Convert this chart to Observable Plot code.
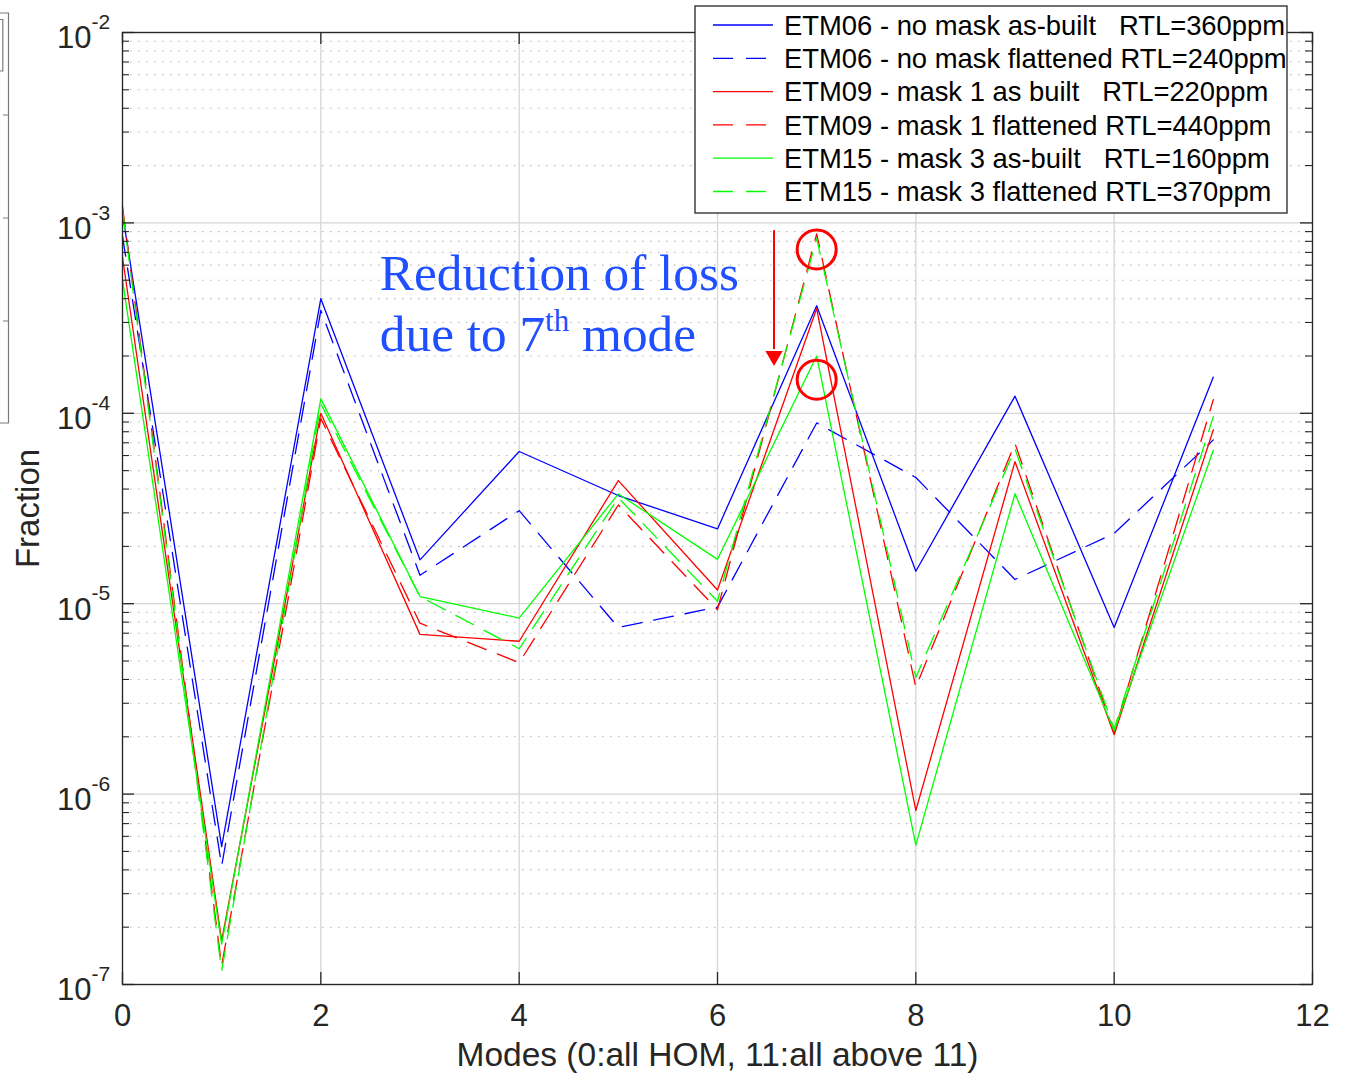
<!DOCTYPE html>
<html><head><meta charset="utf-8">
<script src="https://cdn.jsdelivr.net/npm/d3@7"></script>
<script src="https://cdn.jsdelivr.net/npm/@observablehq/plot@0.6"></script>
<style>
body{margin:0;background:#fff;font-family:"Liberation Sans",Arial,Helvetica,sans-serif;}
#wrap{position:relative;width:1347px;height:1073px;overflow:hidden;}
#wrap svg{position:absolute;}
</style></head><body><div id="wrap"></div>
<script>
// ---- data ----
const modes = [0,1,2,3,4,5,6,7,8,9,10,11];
const etm06AsBuilt   = [1.12e-3,5.3e-7,4.0e-4,1.70e-5,6.3e-5,3.7e-5,2.47e-5,3.67e-4,1.48e-5,1.23e-4,7.5e-6,1.55e-4];
const etm06Flattened = [8.5e-4,4.2e-7,3.47e-4,1.41e-5,3.08e-5,7.5e-6,9.6e-6,8.9e-5,4.6e-5,1.34e-5,2.34e-5,7.25e-5];
const etm09AsBuilt   = [6.6e-4,1.7e-7,1.0e-4,6.9e-6,6.35e-6,4.43e-5,1.18e-5,3.55e-4,8.2e-7,5.57e-5,2.05e-6,8.2e-5];
const etm09Flattened = [1.22e-3,1.26e-7,9.4e-5,7.9e-6,4.9e-6,3.3e-5,9.3e-6,8.76e-4,3.64e-6,6.95e-5,2.1e-6,1.18e-4];
const etm15AsBuilt   = [5.0e-4,1.63e-7,1.19e-4,1.09e-5,8.4e-6,3.77e-5,1.71e-5,2.0e-4,5.4e-7,3.78e-5,2.15e-6,6.4e-5];
const etm15Flattened = [1.17e-3,1.18e-7,1.12e-4,1.09e-5,5.8e-6,3.6e-5,1.03e-5,8.3e-4,4.1e-6,6.5e-5,2.2e-6,9.6e-5];

const seriesValues = [etm06AsBuilt, etm06Flattened, etm09AsBuilt, etm09Flattened, etm15AsBuilt, etm15Flattened];
const seriesNames = [
  "ETM06 - no mask as-built   RTL=360ppm",
  "ETM06 - no mask flattened RTL=240ppm",
  "ETM09 - mask 1 as built   RTL=220ppm",
  "ETM09 - mask 1 flattened RTL=440ppm",
  "ETM15 - mask 3 as-built   RTL=160ppm",
  "ETM15 - mask 3 flattened RTL=370ppm"
];
const seriesColors = ["#0000ff","#0000ff","#ff0000","#ff0000","#00ff00","#00ff00"];
const seriesDashed = [false,true,false,true,false,true];

const xTicks = [0,2,4,6,8,10,12];
const yDecades = [1e-7,1e-6,1e-5,1e-4,1e-3,1e-2];
const yExponentLabels = ["-7","-6","-5","-4","-3","-2"];
const yMinorMultipliers = [2,3,4,5,6,7,8,9];
const xLabel = "Modes (0:all HOM, 11:all above 11)";
const yLabel = "Fraction";

// annotation anchors (data coordinates)
const annotArrow = {x: 6.57, yTop: 9.1e-4, yHead: 2.16e-4, yHeadCenter: 2.0e-4};
const annotCircles = [{x: 7, y: 7.25e-4}, {x: 7, y: 1.5e-4}];
const annotText = {x: 2.6, line1: "Reduction of loss", line2a: "due to 7", sup: "th", line2b: " mode", y1: 4.4e-4, y2: 2.1e-4};

// ---- layout ----
const W = 1347, H = 1073, mL = 122, mR = 35, mT = 32, mB = 89;
const fw = W - mL - mR, fh = H - mT - mB;
const axisColor = "#262626";
const majorTick = 12, minorTick = 7;

const rows = seriesValues.map(vals => modes.map((m, j) => ({mode: m, value: vals[j]})));
const minorVals = yDecades.slice(0, -1).flatMap(d => yMinorMultipliers.map(k => k * d));

const plot = Plot.plot({
  width: W, height: H,
  marginLeft: mL, marginRight: mR, marginTop: mT, marginBottom: mB,
  x: {domain: [0, 12], axis: null},
  y: {type: "log", domain: [1e-7, 1e-2], axis: null},
  style: {background: "transparent", fontFamily: '"Liberation Sans", Arial, Helvetica, sans-serif'},
  marks: [
    // grid
    Plot.ruleY(minorVals, {stroke: "#b8b8b8", strokeWidth: 1.1, strokeDasharray: "1.5,6.5"}),
    Plot.ruleY(yDecades, {stroke: "#d6d6d6", strokeWidth: 1.3}),
    Plot.ruleX(xTicks, {stroke: "#d6d6d6", strokeWidth: 1.3}),
    // data
    ...rows.map((r, i) => Plot.line(r, {
      x: "mode", y: "value", stroke: seriesColors[i], strokeWidth: 1.3,
      strokeDasharray: seriesDashed[i] ? "20,12" : null
    })),
    // annotations
    Plot.ruleX([annotArrow], {x: "x", y1: "yTop", y2: "yHead", stroke: "#ff0000", strokeWidth: 2}),
    Plot.dot([annotArrow], {x: "x", y: "yHeadCenter", symbol: "triangle", rotate: 180, r: 6.4, fill: "#ff0000", stroke: "none"}),
    Plot.dot(annotCircles, {x: "x", y: "y", r: 19.5, stroke: "#ff0000", strokeWidth: 3, fill: "none"}),
    // frame and inward ticks (MATLAB box style)
    Plot.frame({stroke: axisColor, strokeWidth: 1.3}),
    Plot.tickY(yDecades, {y: d => d, insetRight: fw - majorTick, stroke: axisColor, strokeWidth: 1.3}),
    Plot.tickY(yDecades, {y: d => d, insetLeft: fw - majorTick, stroke: axisColor, strokeWidth: 1.3}),
    Plot.tickY(minorVals, {y: d => d, insetRight: fw - minorTick, stroke: axisColor, strokeWidth: 1.1}),
    Plot.tickY(minorVals, {y: d => d, insetLeft: fw - minorTick, stroke: axisColor, strokeWidth: 1.1}),
    Plot.tickX(xTicks, {x: d => d, insetTop: fh - majorTick, stroke: axisColor, strokeWidth: 1.3}),
    Plot.tickX(xTicks, {x: d => d, insetBottom: fh - majorTick, stroke: axisColor, strokeWidth: 1.3}),
    // tick labels
    Plot.text(yDecades, {y: d => d, text: () => "10", frameAnchor: "left", textAnchor: "end", dx: -31, dy: 6, fontSize: 31, fill: axisColor}),
    Plot.text(yDecades, {y: d => d, text: (d, i) => yExponentLabels[i], frameAnchor: "left", textAnchor: "start", dx: -31, dy: -10, fontSize: 21, fill: axisColor}),
    Plot.text(xTicks, {x: d => d, text: d => String(d), frameAnchor: "bottom", dy: 41, fontSize: 31, fill: axisColor}),
    // axis titles
    Plot.text([xLabel], {text: d => d, frameAnchor: "bottom", dy: 81, fontSize: 33.5, fill: axisColor}),
    Plot.text([yLabel], {text: d => d, frameAnchor: "left", textAnchor: "middle", rotate: -90, dx: -94, fontSize: 33, fill: axisColor})
  ]
});
plot.style.left = "0px"; plot.style.top = "0px";
document.getElementById("wrap").appendChild(plot);

// ---- rich annotation text placed via the plot's own scales ----
const sx = plot.scale("x"), sy = plot.scale("y");
const svg = d3.select(plot);
const g = svg.append("g")
  .attr("fill", "#1f4fff")
  .attr("text-anchor", "start")
  .attr("font-family", '"Liberation Serif","Times New Roman",Times,serif')
  .attr("font-size", 51.3);
g.append("text").attr("x", sx.apply(annotText.x)).attr("y", sy.apply(annotText.y1)).text(annotText.line1);
const t2 = g.append("text").attr("x", sx.apply(annotText.x)).attr("y", sy.apply(annotText.y2));
t2.append("tspan").text(annotText.line2a);
t2.append("tspan").attr("dy", -20).attr("font-size", 31).text(annotText.sup);
t2.append("tspan").attr("dy", 20).text(annotText.line2b);

// ---- legend (overlaid, like MATLAB's northeast legend) ----
const lg = d3.select("#wrap").append("svg")
  .attr("width", 594).attr("height", 209)
  .style("left", "694px").style("top", "5px");
lg.append("rect").attr("x", 1).attr("y", 1).attr("width", 592).attr("height", 207)
  .attr("fill", "#fff").attr("stroke", "#262626").attr("stroke-width", 1.3);
seriesNames.forEach((name, i) => {
  const cy = 20 + i * 33.3;
  lg.append("line").attr("x1", 19).attr("x2", 79).attr("y1", cy).attr("y2", cy)
    .attr("stroke", seriesColors[i]).attr("stroke-width", 1.3)
    .attr("stroke-dasharray", seriesDashed[i] ? "20,13" : null);
  lg.append("text").attr("x", 90).attr("y", cy).attr("dy", "0.36em")
    .attr("font-size", 27.4).attr("fill", "#000").style("white-space", "pre").text(name);
});

// ---- cropped neighbouring figure edge at far left ----
const edge = d3.select("#wrap").append("svg").attr("width", 12).attr("height", 440)
  .style("left", "0px").style("top", "0px");
edge.append("path").attr("d", "M0,13H8.5V423H0").attr("fill", "none").attr("stroke", "#7a7a7a").attr("stroke-width", 1.2);
edge.append("path").attr("d", "M0,19.5H2.8V71H0").attr("fill", "none").attr("stroke", "#7a7a7a").attr("stroke-width", 1.2);
[115, 218, 321].forEach(y => edge.append("line").attr("x1", 3).attr("x2", 8.5).attr("y1", y).attr("y2", y).attr("stroke", "#7a7a7a").attr("stroke-width", 1));
</script></body></html>
